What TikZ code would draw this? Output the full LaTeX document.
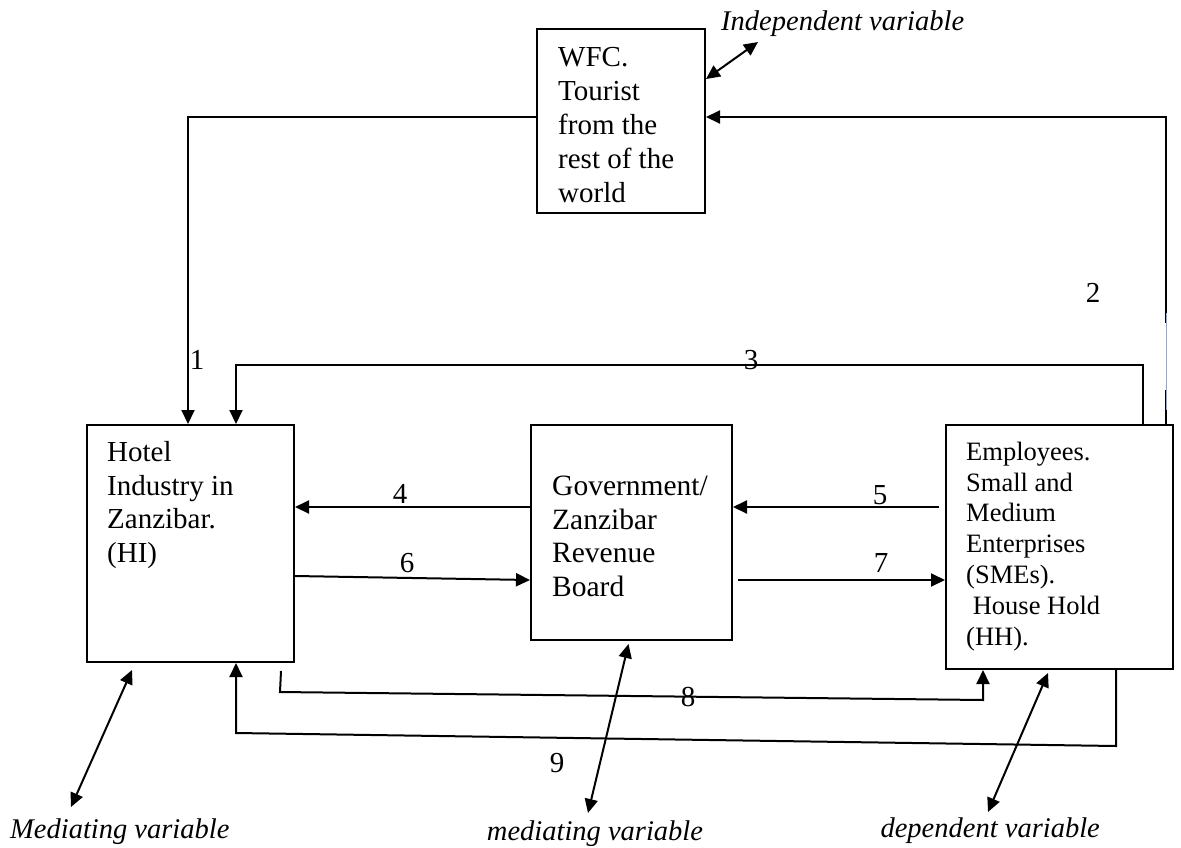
\documentclass[tikz,border=0pt]{standalone}
\usepackage{fontspec}
\setmainfont{Liberation Serif}
\usetikzlibrary{arrows.meta,calc}
\definecolor{lineblue}{RGB}{140,170,215}
\begin{document}
\begin{tikzpicture}[x=1pt,y=-1pt,
  box/.style={draw=black,line width=2pt,inner sep=0pt,rectangle},
  btxt/.style={inner sep=0pt,align=left,anchor=base west,font=\fontsize{29}{33.5}\selectfont},
  etxt/.style={inner sep=0pt,align=left,anchor=base west,font=\fontsize{26.5}{30.8}\selectfont},
  num/.style={inner sep=0pt,font=\fontsize{29}{33}\selectfont},
  vlab/.style={inner sep=0pt,font=\fontsize{28.5}{33}\selectfont\itshape},
  arr/.style={line width=2pt,-{Triangle[length=14pt,width=13pt]}},
  darr/.style={line width=2pt,{Triangle[length=14pt,width=13pt]}-{Triangle[length=14pt,width=13pt]}}]
\fill[white] (0,0) rectangle (1181,847);
\useasboundingbox (0,0) rectangle (1181,847);

% boxes
\node[box,minimum width=168pt,minimum height=184pt] (wfc) at (621,121) {};
\node[box,minimum width=207pt,minimum height=237pt] (hi) at (190.5,543.5) {};
\node[box,minimum width=201pt,minimum height=215pt] (gov) at (631.5,532.5) {};
\node[box,minimum width=227pt,minimum height=244pt] (emp) at (1059.5,547) {};

% box texts (anchored at the baseline of their last line)
\node[btxt,font=\fontsize{29}{33.8}\selectfont] (wfct) at (558,202) {WFC.\\Tourist\\from the\\rest of the\\world};
\node[btxt] (hit) at (107,562) {Hotel\\Industry in\\Zanzibar.\\(HI)};
\node[btxt,font=\fontsize{29.5}{33.5}\selectfont] (govt) at (552,596) {Government/\\Zanzibar\\Revenue\\Board};
\node[etxt] (empt) at (966,645) {Employees.\\Small and\\Medium\\Enterprises\\(SMEs).\\\ House Hold\\(HH).};

% connectors
\draw[arr] ([yshift=4pt]wfc.west) -| ([xshift=-2.5pt]hi.north);
\draw[arr] ([xshift=-8pt]emp.north east) |- ([yshift=4pt]wfc.east);
\draw[white,line width=2.4pt] (1165,323) -- (1165,390);
\draw[lineblue,line width=1.5pt] (1166.5,313) -- (1166.5,410);
\draw[arr] ([xshift=-31pt]emp.north east) -- ++(0,-59) -| ([xshift=45.5pt]hi.north);
\draw[arr] ([yshift=25.5pt]gov.west) coordinate (g4) -- (g4 -| hi.east);
\draw[arr] ([xshift=-6pt,yshift=40pt]emp.west) coordinate (e5) -- (e5 -| gov.east);
\draw[arr] ([yshift=-32.5pt]hi.east) -- ([yshift=-47.5pt]gov.west);
\draw[arr] ([xshift=5pt,yshift=-47.5pt]gov.east) -- ([yshift=-33pt]emp.west);
\draw[arr] ([xshift=-14pt,yshift=-8pt]hi.south east) -- (280,692) -- (983,700) -- ([xshift=-76.5pt]emp.south);
\draw[arr] ([xshift=56.5pt]emp.south) -- (1116,746) -- (236,733) -- ([xshift=45.5pt]hi.south);

% variable labels
\node[vlab,anchor=base west] (indep) at (721,30) {Independent variable};
\node[vlab,anchor=base west] (medl) at (10,838) {Mediating variable};
\node[vlab,anchor=base] (medc) at (595,840) {mediating variable};
\node[vlab,anchor=base east] (dep) at (1100,837) {dependent variable};

\coordinate (a1) at (758,42);
\draw[darr] ([yshift=-51pt]wfc.north east) -- (a1);
\coordinate (b1) at (71,807);
\draw[darr] (132,670) -- (b1);
\coordinate (c1) at (588,813);
\draw[darr] ([xshift=-3pt,yshift=-3pt]gov.south) -- (c1);
\coordinate (d1) at (988,812);
\draw[darr] ([xshift=-11.5pt,yshift=-3pt]emp.south) -- (d1);

% numbers
\node[num] (n1) at (197,360) {1};
\node[num] (n2) at (1093,293) {2};
\node[num] (n3) at (751,360) {3};
\node[num] (n4) at (400,494) {4};
\node[num] (n5) at (880,495) {5};
\node[num] (n6) at (407,563) {6};
\node[num] (n7) at (881,563) {7};
\node[num] (n8) at (688,697) {8};
\node[num] (n9) at (557,763) {9};
\end{tikzpicture}
\end{document}
